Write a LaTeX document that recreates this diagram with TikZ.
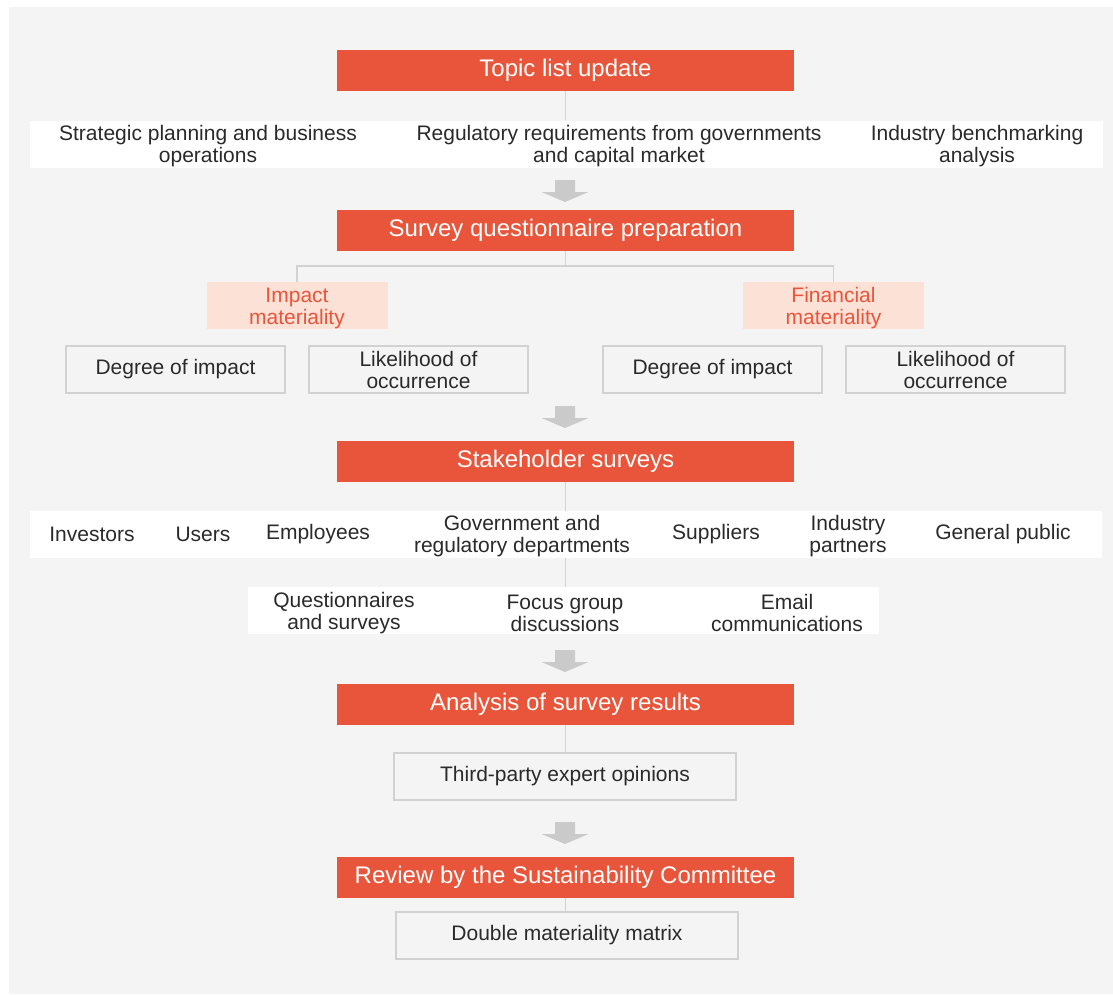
\documentclass[tikz,border=0pt]{standalone}
\usepackage{fontspec}
\setmainfont{Liberation Sans}
\definecolor{bg}{HTML}{F4F4F4}
\definecolor{redbox}{HTML}{E9553A}
\definecolor{pinkbox}{HTML}{FCE1D7}
\definecolor{linegray}{HTML}{D2D2D2}
\definecolor{arrowgray}{HTML}{C9CAC9}
\definecolor{txt}{HTML}{2A2A2A}
\begin{document}
\begin{tikzpicture}[x=1pt,y=-1pt,
  redstep/.style={fill=redbox,text=white,minimum width=457pt,minimum height=41pt,inner sep=0pt,font=\fontsize{24}{26}\selectfont},
  band/.style={fill=white,inner sep=0pt,minimum height=47pt},
  lbl/.style={text=txt,font=\fontsize{21}{22}\selectfont,align=center,inner sep=0pt},
  lbltwo/.style={lbl,yshift=-2pt},
  outbox/.style={draw=linegray,line width=1.5pt,fill=bg,minimum width=219pt,minimum height=47pt,inner sep=0pt,text=txt,font=\fontsize{21}{22}\selectfont,align=center},
  widebox/.style={outbox,minimum width=342pt},
  pinkb/.style={fill=pinkbox,minimum width=181pt,minimum height=47pt,inner sep=0pt},
  pinklbl/.style={lbl,text=redbox,yshift=-3pt},
  conn/.style={draw=linegray,line width=1.5pt},
  downarr/.pic={\fill[arrowgray] (-10,0) -- (10,0) -- (10,12) -- (23.5,12) -- (0,22) -- (-23.5,12) -- (-10,12) -- cycle;}
]
\useasboundingbox (0,0) rectangle (1113,994);
\fill[bg] (9,7) rectangle (1113,994);

% step 1
\node[redstep] (topic) at (565.5,70.5) {Topic list update};
\node[band,minimum width=1073pt] (band1) at (566.5,144) {};
\node[lbltwo] (t1a) at (208,144) {Strategic planning and business\\operations};
\node[lbltwo] (t1b) at (619,144) {Regulatory requirements from governments\\and capital market};
\node[lbltwo] (t1c) at (977,144) {Industry benchmarking\\analysis};
\draw[conn] (topic.south) -- (topic.south |- band1.north);
\pic at (565,180) {downarr};

% step 2
\node[redstep] (survey) at (565.5,230.5) {Survey questionnaire preparation};
\coordinate (brk) at (565.5,266);
\node[pinkb] (impact) at (297,305.5) {};
\node[pinklbl] (impactt) at (impact.center) {Impact\\materiality};
\node[pinkb] (financial) at (833.5,305.5) {};
\node[pinklbl] (financialt) at (financial.center) {Financial\\materiality};
\node[outbox] (deg1) at (175.5,369.5) {Degree of impact};
\node[outbox] (lik1) at (418.5,369.5) {Likelihood of\\occurrence};
\node[outbox] (deg2) at (712.5,369.5) {Degree of impact};
\node[outbox] (lik2) at (955.5,369.5) {Likelihood of\\occurrence};
\draw[conn] (survey.south) -- (brk);
\draw[conn] (impact.north) |- (brk) -| (financial.north);
\pic at (565,406) {downarr};

% step 3
\node[redstep] (stake) at (565.5,461.5) {Stakeholder surveys};
\node[band,minimum width=1072pt] (band3) at (566,534.5) {};
\node[lbl] (s1) at (92,534) {Investors};
\node[lbl] (s2) at (203,534) {Users};
\node[lbl] (s3) at (318,534) {Employees};
\node[lbltwo] (s4) at (522,534) {Government and\\regulatory departments};
\node[lbl] (s5) at (716,534) {Suppliers};
\node[lbltwo] (s6) at (848,534) {Industry\\partners};
\node[lbl] (s7) at (1003,534) {General public};
\node[band,minimum width=631pt] (band4) at (563.5,610.5) {};
\node[lbltwo] (m1) at (344,611) {Questionnaires\\and surveys};
\node[lbltwo] (m2) at (565,611) {Focus group\\discussions};
\node[lbltwo] (m3) at (787,611) {Email\\communications};
\draw[conn] (stake.south) -- (stake.south |- band3.north);
\draw[conn] (stake.south |- band3.south) -- (stake.south |- band4.north);
\pic at (565,650) {downarr};

% step 4
\node[redstep] (analysis) at (565.5,704.5) {Analysis of survey results};
\node[widebox] (expert) at (565,776.5) {Third-party expert opinions};
\draw[conn] (analysis.south) -- (analysis.south |- expert.north);
\pic at (565,822) {downarr};

% step 5
\node[redstep] (review) at (565.5,877.5) {Review by the Sustainability Committee};
\node[widebox] (matrix) at (567,935.5) {Double materiality matrix};
\draw[conn] (review.south) -- (review.south |- matrix.north);
\end{tikzpicture}
\end{document}
